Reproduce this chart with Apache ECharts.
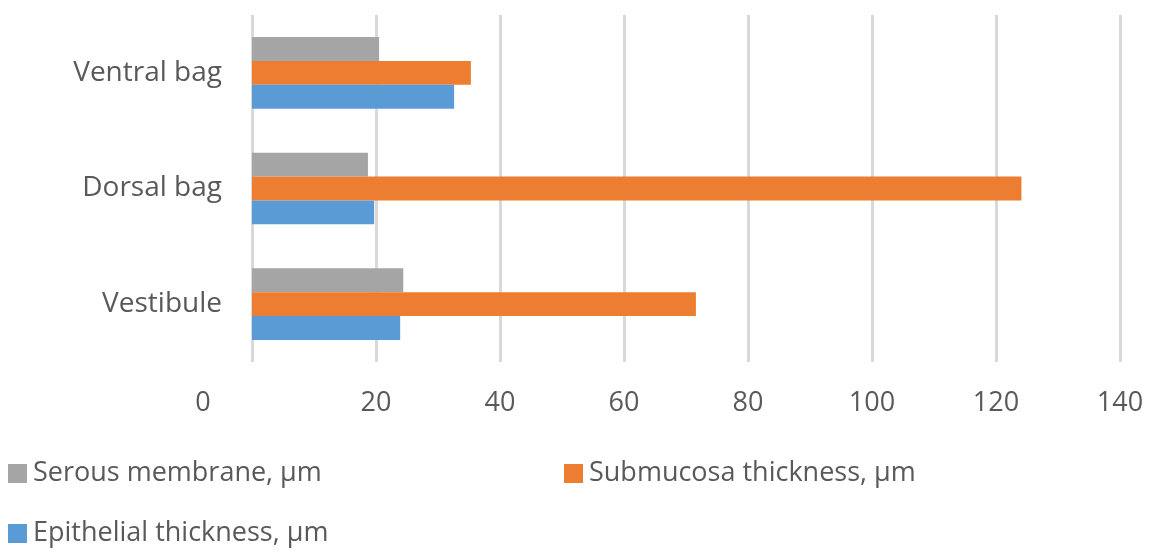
<!DOCTYPE html>
<html>
<head>
<meta charset="utf-8">
<script src="https://cdn.jsdelivr.net/npm/echarts@6/dist/echarts.min.js"></script>
<style>
  html, body { margin: 0; padding: 0; background: #fff; }
  #mychart { width: 1163px; height: 557px; }
</style>
</head>
<body>
<div id="mychart"></div>
<script>
var domchart = document.getElementById("mychart");

// categories, bottom to top
var categories = ['Vestibule', 'Dorsal bag', 'Ventral bag'];
var epithelial = [23.9, 19.7, 32.6];
var submucosa = [71.6, 124.1, 35.3];
var serous = [24.4, 18.7, 20.5];
var xTicks = [0, 20, 40, 60, 80, 100, 120, 140];

var seriesNames = ['Epithelial thickness, µm', 'Submucosa thickness, µm', 'Serous membrane, µm'];
var fontName = 'Open Sans';
var txtColor = '#595959';

function legendAt(name, left, top) {
    return {
        data: [name],
        left: left,
        top: top,
        icon: 'rect',
        itemWidth: 19,
        itemHeight: 19,
        itemGap: 0,
        padding: 0,
        textStyle: { fontFamily: fontName, fontSize: 27, color: txtColor, padding: [0, 0, 0, 1] }
    };
}

var option = {
    animation: false,
    grid: { left: 252, right: 43, top: 15, bottom: 195, containLabel: false },
    legend: [
        legendAt(seriesNames[2], 8, 460),
        legendAt(seriesNames[1], 564, 460),
        legendAt(seriesNames[0], 8, 520)
    ],
    xAxis: {
        type: 'value',
        min: xTicks[0],
        max: xTicks[xTicks.length - 1],
        interval: 20,
        axisLine: { show: false },
        axisTick: { show: false },
        splitLine: { show: true, lineStyle: { color: '#D9D9D9', width: 3 } },
        axisLabel: {
            margin: 28,
            fontFamily: fontName,
            fontSize: 27,
            color: txtColor,
            formatter: function (v) { return v === 0 ? '{z|0}' : String(v); },
            rich: { z: { fontFamily: fontName, fontSize: 27, color: txtColor, padding: [0, 98, 0, 0] } }
        }
    },
    yAxis: {
        type: 'category',
        data: categories,
        axisLine: { show: false },
        axisTick: { show: false },
        axisLabel: { margin: 30, fontFamily: fontName, fontSize: 28, color: txtColor }
    },
    // first series sits at the top of each group
    series: [
        { name: seriesNames[2], type: 'bar', data: serous, itemStyle: { color: '#A5A5A5' }, barGap: 0, barCategoryGap: '38%' },
        { name: seriesNames[1], type: 'bar', data: submucosa, itemStyle: { color: '#ED7D31' }, barGap: 0, barCategoryGap: '38%' },
        { name: seriesNames[0], type: 'bar', data: epithelial, itemStyle: { color: '#5B9BD5' }, barGap: 0, barCategoryGap: '38%' }
    ]
};

var chart = echarts.init(domchart);
chart.setOption(option);
</script>
</body>
</html>
